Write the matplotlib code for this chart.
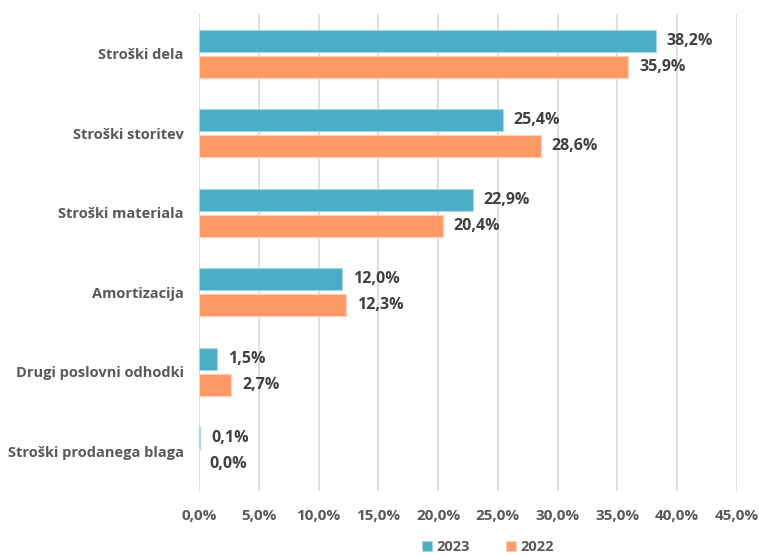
import matplotlib.pyplot as plt
import numpy as np

plt.rcParams['font.family'] = ['Open Sans', 'DejaVu Sans']

categories = ["Stroški dela", "Stroški storitev", "Stroški materiala",
              "Amortizacija", "Drugi poslovni odhodki", "Stroški prodanega blaga"]
values_2023 = [38.2, 25.4, 22.9, 12.0, 1.5, 0.1]
values_2022 = [35.9, 28.6, 20.4, 12.3, 2.7, 0.0]
x_ticks = [0, 5, 10, 15, 20, 25, 30, 35, 40, 45]

c23 = "#4BACC6"
c22 = "#FF9966"
text_c = "#595959"

fig = plt.figure(figsize=(7.59, 5.55), dpi=100)
ax = fig.add_axes([199 / 759, 64 / 555, (737 - 199) / 759, 477 / 555])

y = np.arange(len(categories))
h = 0.277
off = 0.164

ax.barh(y - off, values_2023, height=h, color=c23, edgecolor="#A8D8E6",
        linewidth=0.8, label="2023", zorder=3)
ax.barh(y + off, values_2022, height=h, color=c22, edgecolor="#FFD0B8",
        linewidth=0.8, label="2022", zorder=3)

# --- value labels ---
for yi, v in zip(y, values_2023):
    ax.text(v + 0.9, yi - off, f"{v:.1f}%".replace(".", ","), va="center",
            ha="left", fontsize=11.5, fontweight="bold", color="#404040")
for yi, v in zip(y, values_2022):
    ax.text(v + 0.9, yi + off, f"{v:.1f}%".replace(".", ","), va="center",
            ha="left", fontsize=11.5, fontweight="bold", color="#404040")

ax.set_xlim(0, 45)
ax.set_ylim(len(categories) - 0.5, -0.5)
ax.set_xticks(x_ticks)
ax.set_xticklabels([f"{t:.1f}%".replace(".", ",") for t in x_ticks],
                   fontsize=11, fontweight="bold", color=text_c)
ax.set_yticks(y)
ax.set_yticklabels(categories, fontsize=10.5, fontweight="bold", color=text_c)
ax.tick_params(length=0, pad=11)
ax.tick_params(axis="x", pad=13)

ax.grid(axis="x", color="#D9D9D9", linewidth=1.2, zorder=0)
for s in ax.spines.values():
    s.set_visible(False)

fig.legend(loc="center", bbox_to_anchor=(488 / 759, 1 - 547 / 555), ncol=2,
           frameon=False, handlelength=0.7, handleheight=0.7, columnspacing=2.5,
           handletextpad=0.3, prop={"weight": "bold", "size": 10.5},
           labelcolor=text_c)

fig.savefig("out.png", dpi=100)
